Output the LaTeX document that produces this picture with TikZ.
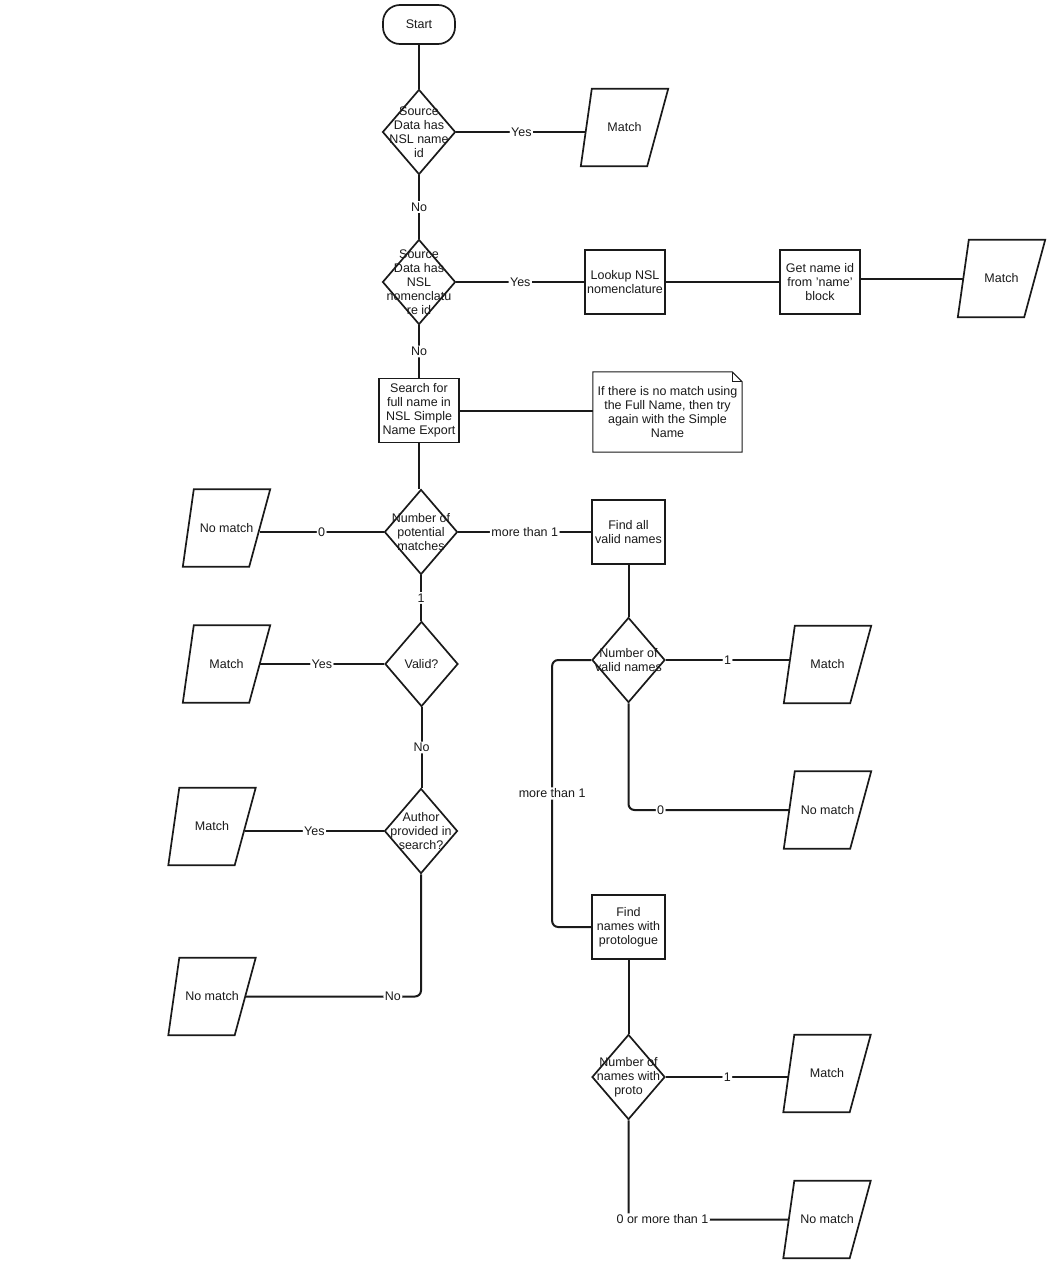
\documentclass[tikz,border=0pt]{standalone}
\usepackage{fontspec}
\setmainfont{Liberation Sans}
\usetikzlibrary{shapes.geometric}
\definecolor{ink}{HTML}{1A1A1A}
\begin{document}
\begin{tikzpicture}[x=1pt,y=-1pt,
  every node/.style={font=\fontsize{12.5}{14}\selectfont, text=ink},
  outl/.style={draw=ink, line width=1.7pt, line join=miter},
  notel/.style={draw=ink, line width=1pt},
  conn/.style={draw=ink, line width=2pt, rounded corners=6pt},
  lab/.style={fill=white, inner sep=1.5pt},
  term/.style={draw=ink, line width=1.7pt, rounded corners=17pt, minimum width=72pt, minimum height=39pt, inner sep=0pt},
  proc/.style={draw=ink, line width=1.7pt, minimum width=#1, minimum height=64pt, inner sep=0pt, align=center},
  proc/.default=80pt,
  dia/.style={shape=diamond, draw=ink, line width=1.7pt, minimum width=73pt, minimum height=85pt, inner sep=0pt,
    label={[align=center, inner sep=0pt]center:#1}},
  io/.style={minimum width=87pt, minimum height=77pt, inner sep=0pt, align=center},
  notebox/.style={minimum width=149pt, minimum height=80pt, inner sep=0pt, align=center}]
\useasboundingbox (0,0) rectangle (1055,1277);
\fill[white] (0,0) rectangle (1055,1277);

% nodes
\node[term] (start) at (419,24.5) {Start};
\node[dia={Source\\Data has\\NSL name\\id}] (d1) at (419,132) {};
\node[io] (m1) at (624.5,127.5) {Match};
\node[dia={Source\\Data has\\NSL\\nomenclatu\\re id}] (d2) at (419,282) {};
\node[proc] (lookup) at (625,282) {Lookup NSL\\nomenclature};
\node[proc] (getname) at (820,282) {Get name id\\from 'name'\\block};
\node[io] (m2) at (1001.5,278.5) {Match};
\node[proc] (search) at (419,410.5) {Search for\\full name in\\NSL Simple\\Name Export};
\node[notebox] (note) at (667.5,412) {If there is no match using\\the Full Name, then try\\again with the Simple\\Name};
\node[dia={Number of\\potential\\matches}] (d3) at (421,532) {};
\node[io] (nm1) at (226.5,528) {No match};
\node[proc=73pt] (findall) at (628.5,532) {Find all\\valid names};
\node[dia={Valid?}] (valid) at (421.5,664) {};
\node[io] (m3) at (226.5,664) {Match};
\node[dia={Author\\provided in\\search?}] (author) at (421,831) {};
\node[io] (m4) at (212,826.5) {Match};
\node[io] (nm2) at (212,996.5) {No match};
\node[dia={Number of\\valid names}] (nvn) at (628.5,660) {};
\node[io] (m5) at (827.5,664.5) {Match};
\node[io] (nm3) at (827.5,810) {No match};
\node[proc=73pt] (fnp) at (628.5,927) {Find\\names with\\protologue};
\node[dia={Number of\\names with\\proto}] (nwp) at (628.5,1077) {};
\node[io] (m6) at (827,1073.5) {Match};
\node[io] (nm4) at (827,1219.5) {No match};

% parallelogram outlines and edge points
\foreach \n in {m1,m2,nm1,m3,m4,nm2,m5,nm3,m6,nm4}{
  \draw[outl] ([xshift=11pt]\n.north west) -- (\n.north east) -- ([xshift=-21pt]\n.south east) -- (\n.south west) -- cycle;
  \coordinate (\n-l) at ([xshift=5.5pt]\n.west);
  \coordinate (\n-r) at ([xshift=-10.5pt]\n.east);
}

% note outline
\draw[notel] (note.north west) -- ([xshift=-10pt]note.north east) -- ([yshift=-10pt]note.north east) -- (note.south east) -- (note.south west) -- cycle;
\draw[notel] ([xshift=-10pt]note.north east) -- ([xshift=-10pt,yshift=-10pt]note.north east) -- ([yshift=-10pt]note.north east);

% connectors
\draw[conn] (start.south) -- (d1.north);
\draw[conn] (d1.east) -- (d1.east -| m1-l) node[lab,midway]{Yes};
\draw[conn] (d1.south) -- (d2.north) node[lab,midway]{No};
\draw[conn] (d2.east) -- (lookup.west) node[lab,midway]{Yes};
\draw[conn] (lookup.east) -- (getname.west);
\draw[conn] (getname.east |- m2-l) -- (m2-l);
\draw[conn] (d2.south) -- (search.north) node[lab,midway]{No};
\draw[conn] (search.east) -- (search.east -| note.west);
\draw[conn] (search.south) -- (search.south |- d3.north);
\draw[conn] (d3.west) -- (d3.west -| nm1-r) node[lab,midway]{0};
\draw[conn] (d3.east) -- (findall.west) node[lab,midway]{more than 1};
\draw[conn] (d3.south) -- (d3.south |- valid.north) node[lab,midway]{1};
\draw[conn] (valid.west) -- (valid.west -| m3-r) node[lab,midway]{Yes};
\draw[conn] (valid.south) -- (valid.south |- author.north) node[lab,midway]{No};
\draw[conn] (author.west) -- (author.west -| m4-r) node[lab,midway]{Yes};
\draw[conn] (author.south) |- (nm2-r) node[lab,pos=0.58]{No};
\draw[conn] (findall.south) -- (nvn.north);
\draw[conn] (nvn.east) -- (nvn.east -| m5-l) node[lab,midway]{1};
\draw[conn] (nvn.south) |- (nm3-l) node[lab,pos=0.6]{0};
\draw[conn] (nvn.west) -- ++(-39,0) |- (fnp.west) node[lab,pos=0.25]{more than 1};
\draw[conn] (fnp.south) -- (nwp.north);
\draw[conn] (nwp.east) -- (nwp.east -| m6-l) node[lab,midway]{1};
\draw[conn] (nwp.south) |- (nm4-l) node[lab,pos=0.606]{0 or more than 1};
\end{tikzpicture}
\end{document}
